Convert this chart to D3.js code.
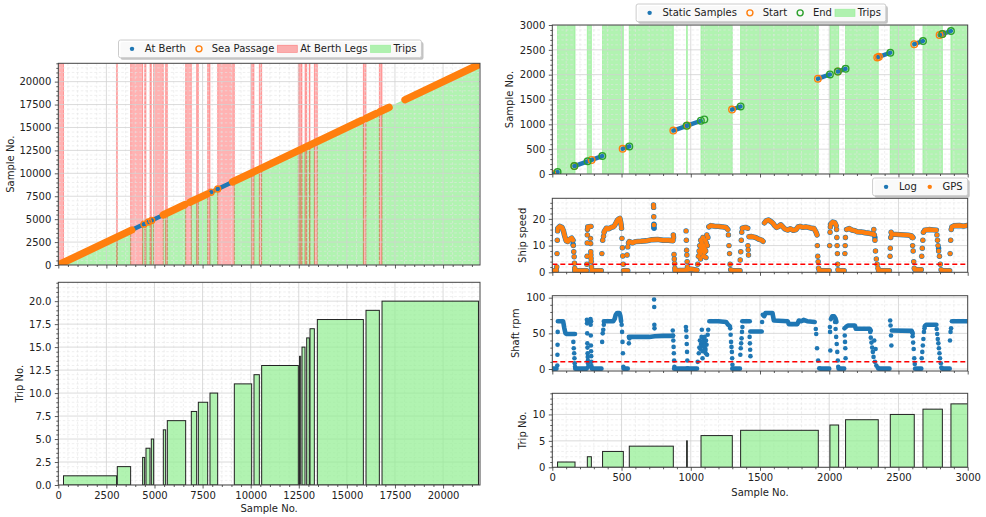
<!DOCTYPE html>
<html>
<head>
<meta charset="utf-8">
<script src="https://cdn.jsdelivr.net/npm/d3@7"></script>
<style>
  body { margin: 0; background: #fff; }
  svg text { font-family: "DejaVu Sans", sans-serif; font-size: 10px; fill: #222; }
</style>
</head>
<body>
<svg id="chart" width="986" height="517"></svg>
<script>
// ---------- full record (left column) ----------
var tripNo    = [1, 2, 3, 4, 5, 6, 7, 8, 9, 10, 11, 12, 13, 14, 15, 16, 17, 18, 19, 20];
var tripStart = [270, 3067, 4384, 4558, 4835, 5459, 5667, 6914, 7279, 7885, 9150, 10172, 10571, 12540, 12668, 12911, 13084, 13465, 15995, 16827];
var tripEnd   = [3030, 3760, 4488, 4766, 4956, 5580, 6620, 7192, 7764, 8284, 10051, 10450, 12477, 12600, 12824, 13049, 13309, 15857, 16688, 21840];

var berthLegStart = [0, 3030, 3760, 4488, 4766, 4956, 5580, 6620, 7192, 7764, 8284, 10051, 10450, 12477, 12600, 12824, 13049, 13309, 15857, 16688];
var berthLegEnd   = [270, 3067, 4384, 4558, 4835, 5459, 5667, 6914, 7279, 7885, 9150, 10172, 10571, 12540, 12668, 12911, 13084, 13465, 15995, 16827];

// sample ranges classified on the diagonal
var atBerth    = [[0, 60], [3816, 4440], [4500, 4660], [4720, 4830], [4880, 5440], [6640, 6680], [7720, 7930], [7950, 8280], [8290, 9060], [15830, 15930], [16670, 16710]];
var seaPassage = [[90, 3816], [4450, 4460], [4680, 4690], [4850, 4860], [5460, 6577], [6850, 7720], [7940, 7945], [8285, 8290], [9060, 15771], [15996, 16516], [16725, 17193], [18023, 21900]];

// ---------- first 3000 samples (right column) ----------
var rTripNo    = [1, 2, 3, 4, 5, 6, 7, 8, 9, 10, 11, 12];
var rTripStart = [38, 253, 363, 556, 970, 1074, 1360, 2005, 2118, 2441, 2677, 2879];
var rTripEnd   = [164, 282, 513, 874, 975, 1300, 1921, 2068, 2354, 2614, 2817, 3010];

var staticRuns   = [[0, 38], [159, 255], [284, 361], [508, 556], [874, 970], [975, 1073], [1298, 1360], [1918, 2005], [2062, 2118], [2347, 2441], [2614, 2677], [2797, 2879]];
var staticStarts = [0, 159, 284, 508, 874, 975, 1298, 1918, 2062, 2347, 2359, 2614, 2797, 2817];
var staticEnds   = [38, 159, 255, 361, 556, 970, 1073, 1098, 1360, 2005, 2062, 2118, 2441, 2677, 2817, 2879];

var speedLimit = 3;
var rpmLimit = 10;

var gpsTracks = [
  [[0, 0.6], [30, 0.6]],
  [[40, 16.5], [55, 17.2], [70, 16.8], [80, 15.6], [90, 13.5], [100, 11.8], [112, 11.5], [125, 12.3], [140, 12.8], [150, 12]],
  [[162, 0.6], [248, 0.6]],
  [[256, 17], [280, 17.2]],
  [[286, 0.6], [354, 0.6]],
  [[378, 15.5], [390, 16.5], [410, 16.3], [425, 16.8], [440, 17], [450, 17.5], [460, 18.5], [470, 19.5], [480, 20], [488, 20.2], [493, 19], [498, 17.5]],
  [[514, 0.6], [545, 0.6]],
  [[556, 11.5], [580, 11], [600, 11.5], [640, 11.6], [680, 11.8], [720, 12.2], [760, 12.3], [800, 12], [840, 12], [872, 11.8]],
  [[886, 0.6], [960, 0.8], [1000, 1.2], [1045, 0.8]],
  [[1130, 17], [1145, 17.5], [1170, 17.3], [1200, 17.2], [1230, 17], [1255, 16.8], [1268, 16]],
  [[1298, 0.6], [1356, 0.6]],
  [[1372, 16.5], [1395, 16.8], [1412, 16.5]],
  [[1420, 13.3], [1440, 13.4], [1470, 13], [1490, 12.4], [1510, 12.1], [1522, 11.6]],
  [[1532, 18.5], [1545, 19.3], [1560, 19.6], [1580, 19], [1595, 18.3], [1605, 17.5], [1620, 16.8], [1635, 17.2], [1650, 17.8], [1665, 17], [1680, 16.2], [1700, 15.8], [1720, 16.3], [1740, 15.7], [1760, 16], [1775, 17], [1790, 17.2], [1810, 16.8], [1830, 17], [1850, 16.8], [1870, 16.5], [1890, 16.4], [1905, 15], [1912, 14]],
  [[1928, 0.6], [2000, 0.6]],
  [[2010, 18], [2025, 18.8], [2040, 18.6], [2050, 17.5]],
  [[2068, 0.6], [2108, 0.6]],
  [[2125, 16], [2145, 16.4], [2165, 15.8], [2185, 15.6], [2200, 15.2], [2230, 15.1], [2260, 14.8], [2290, 14.6], [2318, 14.3]],
  [[2356, 0.6], [2435, 0.6]],
  [[2452, 14.2], [2480, 14.2], [2510, 14.1], [2540, 14], [2570, 13.9], [2595, 13.6], [2605, 13]],
  [[2620, 1], [2665, 1]],
  [[2690, 15.8], [2720, 16], [2750, 15.9], [2774, 15.8]],
  [[2815, 0.6], [2870, 0.6]],
  [[2886, 17], [2900, 17.4], [2940, 17.5], [2970, 17.3], [2998, 17.6]]
];

var gpsSpots = [
  [32, 2], [34, 7], [36, 12], [38, 15.5],
  [152, 10], [155, 7.7], [158, 5.8], [160, 3.4], [162, 1.5],
  [250, 3], [251, 6], [252, 11], [253, 14], [254, 16],
  [276, 12.7], [277, 10.8], [278, 7.7], [279, 6.5], [280, 5.2], [281, 4], [283, 2],
  [358, 7], [364, 12], [370, 13.5], [374, 15],
  [500, 16.5], [503, 12.7], [506, 9.2], [509, 6.1], [512, 3],
  [540, 6.5], [545, 9.5], [550, 11],
  [731, 25.2], [732, 24.3], [733, 20.8], [734, 17.7],
  [874, 14], [876, 13], [879, 6.7], [881, 5], [883, 3.3], [885, 1.5],
  [966, 15.5], [968, 12], [970, 8.3], [972, 6.5], [974, 4], [976, 2],
  [1050, 3], [1055, 6], [1060, 8], [1064, 10], [1068, 7], [1072, 12], [1076, 9], [1080, 11], [1084, 8], [1088, 13], [1092, 10], [1096, 6],
  [1100, 9], [1104, 12], [1108, 8], [1112, 11], [1116, 14], [1120, 10], [1124, 13], [1070, 5], [1090, 6], [1110, 5.5], [1082, 9.5], [1098, 7.5],
  [1272, 14], [1276, 10], [1280, 7], [1284, 3], [1288, 1],
  [1357, 4.6], [1361, 7.7], [1365, 12], [1368, 15],
  [1413, 10], [1415, 8.4], [1417, 6.5],
  [1914, 10], [1917, 6], [1920, 4], [1923, 1.5],
  [2003, 10], [2006, 15], [2008, 17],
  [2053, 16], [2055, 13], [2057, 10], [2059, 7], [2061, 3], [2063, 1],
  [2113, 7], [2115, 10], [2117, 13],
  [2322, 16], [2326, 14], [2330, 12], [2334, 8], [2340, 5], [2346, 3], [2352, 1.5],
  [2439, 6], [2441, 9], [2444, 13], [2447, 15],
  [2598, 13], [2602, 10], [2606, 8], [2610, 4], [2614, 1.5],
  [2668, 6], [2672, 9], [2676, 12], [2680, 15],
  [2778, 14], [2782, 12], [2786, 10], [2790, 8], [2796, 6], [2802, 3], [2808, 1],
  [2873, 7], [2877, 12], [2881, 16]
];

// log speed follows GPS closely; extra samples where it differs
var logTracks = gpsTracks;
var logOnlySpots = [[733, 17], [734, 18], [735, 16.5], [1075, 8], [1085, 12], [1095, 10], [150, 10.5], [2330, 13], [2790, 9]];

var rpmTracks = [
  [[0, 0.5], [30, 0.5]],
  [[40, 67], [78, 67], [86, 58], [95, 50], [104, 49], [164, 49]],
  [[166, 0.5], [248, 0.5]],
  [[256, 67], [280, 67]],
  [[286, 0.5], [355, 0.5]],
  [[372, 67], [440, 67], [450, 70], [458, 76], [468, 78.5], [485, 78.5], [492, 74], [497, 67]],
  [[515, 0.5], [545, 0.5]],
  [[553, 45], [600, 45], [700, 45], [740, 46], [800, 46.5], [872, 46.5]],
  [[880, 0.5], [1045, 0.5]],
  [[1134, 67], [1200, 67], [1255, 66], [1270, 62], [1283, 60]],
  [[1300, 0.5], [1355, 0.5]],
  [[1372, 67], [1426, 67]],
  [[1430, 52.5], [1512, 52.5]],
  [[1530, 74], [1540, 78.5], [1590, 78.5], [1600, 68], [1700, 67], [1708, 63], [1770, 63], [1780, 68], [1800, 67], [1815, 69], [1840, 67], [1895, 66]],
  [[1935, 0.5], [2000, 0.5]],
  [[2012, 70], [2022, 74], [2035, 74], [2045, 71], [2052, 66]],
  [[2068, 0.5], [2108, 0.5]],
  [[2121, 59], [2135, 61], [2185, 61], [2192, 56.5], [2292, 56.5], [2300, 54]],
  [[2356, 0.5], [2435, 0.5]],
  [[2452, 54], [2595, 53.5], [2603, 50]],
  [[2620, 0.5], [2665, 0.5]],
  [[2690, 60], [2700, 62], [2774, 62]],
  [[2815, 0.5], [2870, 0.5]],
  [[2886, 67], [3000, 67]]
];

var rpmSpots = [
  [36, 5], [37, 20], [38, 34], [39, 52],
  [152, 38], [155, 29], [158, 22], [160, 15], [162, 8], [164, 3],
  [250, 69], [251, 64], [252, 50], [253, 36], [254, 30], [255, 22], [256, 17], [257, 12], [258, 8], [259, 3],
  [276, 70], [277, 62], [278, 47], [279, 33], [280, 25], [281, 18], [282, 10], [283, 4],
  [360, 38], [364, 50], [368, 55], [372, 62],
  [501, 62], [504, 52], [507, 38], [510, 22], [513, 3],
  [553, 36], [557, 43],
  [735, 97.5], [736, 87], [737, 62], [738, 57],
  [870, 54], [872, 47], [874, 40], [876, 31], [878, 22], [880, 12], [882, 3],
  [965, 59], [967, 54], [969, 45], [971, 35], [973, 24], [975, 12], [977, 1],
  [1050, 10], [1058, 22], [1062, 30], [1066, 40], [1070, 28], [1074, 35], [1078, 45], [1082, 33], [1086, 25], [1090, 38], [1094, 42], [1098, 30],
  [1102, 36], [1106, 28], [1110, 40], [1114, 34], [1118, 20], [1122, 48], [1126, 55], [1080, 55], [1085, 15], [1100, 45], [1108, 22], [1096, 33], [1104, 26],
  [1285, 57], [1288, 48], [1291, 38], [1294, 31], [1297, 24], [1299, 15], [1301, 6],
  [1358, 20], [1361, 29], [1364, 36], [1367, 43], [1370, 52], [1373, 59],
  [1425, 45], [1427, 36], [1429, 27], [1431, 18],
  [1515, 66], [1520, 76],
  [1903, 56], [1906, 49], [1912, 29], [1920, 12], [1928, 1],
  [2005, 59], [2006, 52], [2008, 26],
  [2042, 66], [2046, 56], [2050, 45], [2054, 35], [2058, 24], [2062, 12], [2065, 3],
  [2110, 57], [2112, 47], [2114, 38], [2116, 29], [2118, 15],
  [2296, 52], [2300, 44], [2305, 37], [2310, 30], [2315, 24], [2320, 17], [2325, 40], [2330, 10], [2335, 28], [2340, 5], [2350, 2],
  [2440, 68], [2443, 61], [2446, 47], [2449, 33],
  [2598, 52], [2602, 46], [2606, 37], [2610, 28], [2614, 15], [2618, 7],
  [2668, 15], [2672, 24], [2676, 33], [2680, 42], [2684, 52], [2688, 57],
  [2776, 56], [2780, 49], [2784, 42], [2788, 36], [2792, 29], [2796, 22], [2800, 15], [2806, 8], [2810, 2],
  [2872, 40], [2876, 52], [2880, 57]
];

// ---------- drawing ----------
var svg = d3.select("#chart");
var defs = svg.append("defs");
var clipCount = 0;

var blue = "#1f77b4", orange = "#ff7f0e", green = "#2ca02c";
var greenFill = "rgba(144,238,144,0.7)", redFill = "rgba(255,0,0,0.3)";

function tickValues(d0, d1, step) {
  var out = [];
  var k0 = Math.ceil(d0 / step - 1e-9), k1 = Math.floor(d1 / step + 1e-9);
  for (var k = k0; k <= k1; k++) out.push(+(k * step).toFixed(6));
  return out;
}

function makePanel(p) {
  var x = d3.scaleLinear().domain(p.xd).range([p.left, p.right]);
  var y = d3.scaleLinear().domain(p.yd).range([p.bottom, p.top]);
  var id = "clip" + (clipCount++);
  defs.append("clipPath").attr("id", id).append("rect")
    .attr("x", p.left).attr("y", p.top)
    .attr("width", p.right - p.left).attr("height", p.bottom - p.top);

  var back = svg.append("g").attr("clip-path", "url(#" + id + ")");
  var grid = svg.append("g").attr("clip-path", "url(#" + id + ")");
  var front = svg.append("g").attr("clip-path", "url(#" + id + ")");

  var xMaj = tickValues(p.xd[0], p.xd[1], p.xStep),
      yMaj = tickValues(p.yd[0], p.yd[1], p.yStep);
  var xMin = tickValues(p.xd[0], p.xd[1], p.xMinor).filter(function(v){ return xMaj.indexOf(v) < 0; }),
      yMin = tickValues(p.yd[0], p.yd[1], p.yMinor).filter(function(v){ return yMaj.indexOf(v) < 0; });

  grid.selectAll(".gxm").data(xMin).enter().append("line")
    .attr("x1", x).attr("x2", x).attr("y1", p.top).attr("y2", p.bottom)
    .attr("stroke", "#e4e4e4").attr("stroke-width", 0.6).attr("stroke-dasharray", "2.5,2");
  grid.selectAll(".gym").data(yMin).enter().append("line")
    .attr("y1", y).attr("y2", y).attr("x1", p.left).attr("x2", p.right)
    .attr("stroke", "#e4e4e4").attr("stroke-width", 0.6).attr("stroke-dasharray", "2.5,2");
  grid.selectAll(".gxM").data(xMaj).enter().append("line")
    .attr("x1", x).attr("x2", x).attr("y1", p.top).attr("y2", p.bottom)
    .attr("stroke", "#d2d2d2").attr("stroke-width", 0.8);
  grid.selectAll(".gyM").data(yMaj).enter().append("line")
    .attr("y1", y).attr("y2", y).attr("x1", p.left).attr("x2", p.right)
    .attr("stroke", "#d2d2d2").attr("stroke-width", 0.8);

  svg.append("rect")
    .attr("x", p.left).attr("y", p.top)
    .attr("width", p.right - p.left).attr("height", p.bottom - p.top)
    .attr("fill", "none").attr("stroke", "#444").attr("stroke-width", 1);

  var axes = [
    svg.append("g").attr("transform", "translate(0," + p.bottom + ")")
      .call(d3.axisBottom(x).tickValues(xMin).tickSize(2).tickFormat("")),
    svg.append("g").attr("transform", "translate(0," + p.bottom + ")")
      .call(d3.axisBottom(x).tickValues(xMaj).tickSize(3.5).tickPadding(3.5)
        .tickFormat(p.xLabels ? d3.format("d") : "")),
    svg.append("g").attr("transform", "translate(" + p.left + ",0)")
      .call(d3.axisLeft(y).tickValues(yMin).tickSize(2).tickFormat("")),
    svg.append("g").attr("transform", "translate(" + p.left + ",0)")
      .call(d3.axisLeft(y).tickValues(yMaj).tickSize(3.5).tickPadding(3.5)
        .tickFormat(d3.format(p.yFmt || "d")))
  ];
  axes.forEach(function(a){
    a.select(".domain").remove();
    a.selectAll("line").attr("stroke", "#333").attr("stroke-width", 0.8);
  });

  svg.append("text")
    .attr("transform", "translate(" + p.yLabelX + "," + ((p.top + p.bottom) / 2) + ") rotate(-90)")
    .attr("text-anchor", "middle")
    .text(p.yLabel);
  if (p.xLabel) {
    svg.append("text")
      .attr("x", (p.left + p.right) / 2).attr("y", p.xLabelY)
      .attr("text-anchor", "middle")
      .text(p.xLabel);
  }
  return {x: x, y: y, back: back, front: front, p: p};
}

function legend(items, opt) {
  var g = svg.append("g");
  var padL = 3.5, handle = 20, tpad = 2.8, col = 3, padR = 5, h = 17.7;
  var cur = padL, parts = [];
  items.forEach(function(it, i){
    var t = g.append("text").text(it.label);
    var w = t.node().getComputedTextLength();
    parts.push({it: it, hx: cur, t: t, tx: cur + handle + tpad});
    cur += handle + tpad + w + (i < items.length - 1 ? col : 0);
  });
  var W = cur + padR;
  var x0 = opt.cx != null ? opt.cx - W / 2 : opt.right - W;
  var yc = opt.top + h / 2;

  g.insert("rect", "text").attr("x", x0).attr("y", opt.top).attr("width", W).attr("height", h)
    .attr("rx", 2).attr("fill", "rgba(255,255,255,0.9)").attr("stroke", "#cccccc").attr("stroke-width", 1);
  g.insert("rect", "rect").attr("x", x0 + 2).attr("y", opt.top + 2).attr("width", W).attr("height", h)
    .attr("rx", 2).attr("fill", "#888").attr("opacity", 0.5);

  parts.forEach(function(pt){
    var hc = x0 + pt.hx + handle / 2;
    if (pt.it.type === "dot") {
      g.append("circle").attr("cx", hc).attr("cy", yc).attr("r", 2.2).attr("fill", pt.it.color);
    } else if (pt.it.type === "ring") {
      g.append("circle").attr("cx", hc).attr("cy", yc).attr("r", 3).attr("fill", "none")
        .attr("stroke", pt.it.color).attr("stroke-width", 1.4);
    } else {
      g.append("rect").attr("x", x0 + pt.hx).attr("y", yc - 3.6).attr("width", handle).attr("height", 7.2)
        .attr("fill", pt.it.color).attr("stroke", pt.it.color).attr("stroke-width", 0.8);
    }
    pt.t.attr("x", x0 + pt.tx).attr("y", yc + 3.6);
  });
}

// ---------- left top: sample classification ----------
var LT = makePanel({left: 58.3, right: 480, top: 63.3, bottom: 265,
  xd: [0, 21920], yd: [0, 22000], xStep: 2500, xMinor: 500, yStep: 2500, yMinor: 500,
  xLabels: false, yLabel: "Sample No.", yLabelX: 14.4});

LT.back.selectAll(".tripFill").data(tripStart).enter().append("path")
  .attr("d", function(s, i){
    var e = tripEnd[i];
    return "M" + LT.x(s) + "," + LT.y(0) + "L" + LT.x(s) + "," + LT.y(s) +
           "L" + LT.x(e) + "," + LT.y(e) + "L" + LT.x(e) + "," + LT.y(0) + "Z";
  })
  .attr("fill", greenFill).attr("stroke", greenFill).attr("stroke-width", 1);

LT.back.selectAll(".berthLeg").data(berthLegStart).enter().append("rect")
  .attr("x", function(s){ return LT.x(s); })
  .attr("width", function(s, i){ return LT.x(berthLegEnd[i]) - LT.x(s); })
  .attr("y", LT.p.top).attr("height", LT.p.bottom - LT.p.top)
  .attr("fill", redFill).attr("stroke", redFill).attr("stroke-width", 1);

function diagPath(P, d) {
  return "M" + P.x(d[0]) + "," + P.y(d[0]) + "L" + P.x(d[1]) + "," + P.y(d[1]);
}

LT.front.selectAll(".berth").data(atBerth).enter().append("path")
  .attr("d", function(d){ return diagPath(LT, d); })
  .attr("stroke", blue).attr("stroke-width", 4.4).attr("stroke-linecap", "round").attr("fill", "none");

LT.front.selectAll(".sea").data(seaPassage.filter(function(d){ return LT.x(d[1]) - LT.x(d[0]) >= 4; }))
  .enter().append("path")
  .attr("d", function(d){ return diagPath(LT, d); })
  .attr("stroke", orange).attr("stroke-width", 7.4).attr("stroke-linecap", "round").attr("fill", "none");

LT.front.selectAll(".seaRing").data(seaPassage.filter(function(d){ return LT.x(d[1]) - LT.x(d[0]) < 4; }))
  .enter().append("circle")
  .attr("cx", function(d){ return LT.x((d[0] + d[1]) / 2); })
  .attr("cy", function(d){ return LT.y((d[0] + d[1]) / 2); })
  .attr("r", 3).attr("fill", "none").attr("stroke", orange).attr("stroke-width", 1.4);

legend([
  {type: "dot", color: blue, label: "At Berth"},
  {type: "ring", color: orange, label: "Sea Passage"},
  {type: "patch", color: redFill, label: "At Berth Legs"},
  {type: "patch", color: greenFill, label: "Trips"}
], {cx: 270, top: 40});

// ---------- left bottom: trips ----------
var LB = makePanel({left: 58.3, right: 480, top: 282.3, bottom: 485,
  xd: [0, 21920], yd: [0, 22.05], xStep: 2500, xMinor: 500, yStep: 2.5, yMinor: 0.5, yFmt: ".1f",
  xLabels: true, xLabel: "Sample No.", xLabelY: 512, yLabel: "Trip No.", yLabelX: 22.7});

LB.front.selectAll(".bar").data(tripNo).enter().append("rect")
  .attr("x", function(n, i){ return LB.x(tripStart[i]); })
  .attr("width", function(n, i){ return LB.x(tripEnd[i]) - LB.x(tripStart[i]); })
  .attr("y", function(n){ return LB.y(n); })
  .attr("height", function(n){ return LB.y(0) - LB.y(n); })
  .attr("fill", greenFill).attr("stroke", "#222").attr("stroke-width", 1);

// ---------- right top: static samples ----------
var RT = makePanel({left: 552.3, right: 967.7, top: 25, bottom: 174,
  xd: [0, 3000], yd: [0, 3000], xStep: 500, xMinor: 100, yStep: 500, yMinor: 100,
  xLabels: false, yLabel: "Sample No.", yLabelX: 512.7});

RT.back.selectAll(".span").data(rTripStart).enter().append("rect")
  .attr("x", function(s){ return RT.x(s); })
  .attr("width", function(s, i){ return RT.x(rTripEnd[i]) - RT.x(s); })
  .attr("y", RT.p.top).attr("height", RT.p.bottom - RT.p.top)
  .attr("fill", greenFill).attr("stroke", greenFill).attr("stroke-width", 1);

RT.front.selectAll(".static").data(staticRuns).enter().append("path")
  .attr("d", function(d){ return diagPath(RT, d); })
  .attr("stroke", blue).attr("stroke-width", 4.4).attr("stroke-linecap", "round").attr("fill", "none");

RT.front.selectAll(".start").data(staticStarts).enter().append("circle")
  .attr("cx", function(s){ return RT.x(s); }).attr("cy", function(s){ return RT.y(s); })
  .attr("r", 3.3).attr("fill", "none").attr("stroke", orange).attr("stroke-width", 1.4);

RT.front.selectAll(".end").data(staticEnds).enter().append("circle")
  .attr("cx", function(s){ return RT.x(s); }).attr("cy", function(s){ return RT.y(s); })
  .attr("r", 3.3).attr("fill", "none").attr("stroke", green).attr("stroke-width", 1.4);

legend([
  {type: "dot", color: blue, label: "Static Samples"},
  {type: "ring", color: orange, label: "Start"},
  {type: "ring", color: green, label: "End"},
  {type: "patch", color: greenFill, label: "Trips"}
], {cx: 761, top: 4});

// ---------- right: ship speed ----------
var RS = makePanel({left: 552.3, right: 967.7, top: 198.3, bottom: 272.3,
  xd: [0, 3000], yd: [0, 27.7], xStep: 500, xMinor: 100, yStep: 10, yMinor: 2,
  xLabels: false, yLabel: "Ship speed", yLabelX: 526});

function drawSeries(P, tracks, spots, color, width) {
  var line = d3.line().x(function(d){ return P.x(d[0]); }).y(function(d){ return P.y(d[1]); });
  P.front.append("g").selectAll("path").data(tracks).enter().append("path")
    .attr("d", line).attr("fill", "none").attr("stroke", color).attr("stroke-width", width)
    .attr("stroke-linecap", "round").attr("stroke-linejoin", "round");
  P.front.append("g").selectAll("circle").data(spots).enter().append("circle")
    .attr("cx", function(d){ return P.x(d[0]); }).attr("cy", function(d){ return P.y(d[1]); })
    .attr("r", width / 2).attr("fill", color);
}

drawSeries(RS, logTracks, gpsSpots.concat(logOnlySpots), blue, 5.4);
drawSeries(RS, gpsTracks, gpsSpots, orange, 4.4);

RS.front.append("line")
  .attr("x1", RS.p.left).attr("x2", RS.p.right)
  .attr("y1", RS.y(speedLimit)).attr("y2", RS.y(speedLimit))
  .attr("stroke", "#ff0000").attr("stroke-width", 1.5).attr("stroke-dasharray", "5,3");

legend([
  {type: "dot", color: blue, label: "Log"},
  {type: "dot", color: orange, label: "GPS"}
], {right: 967.7, top: 178});

// ---------- right: shaft rpm ----------
var RR = makePanel({left: 552.3, right: 967.7, top: 295.7, bottom: 371,
  xd: [0, 3000], yd: [-2.8, 102.8], xStep: 500, xMinor: 100, yStep: 50, yMinor: 10,
  xLabels: false, yLabel: "Shaft rpm", yLabelX: 519.4});

drawSeries(RR, rpmTracks, rpmSpots, blue, 4.6);

RR.front.append("line")
  .attr("x1", RR.p.left).attr("x2", RR.p.right)
  .attr("y1", RR.y(rpmLimit)).attr("y2", RR.y(rpmLimit))
  .attr("stroke", "#ff0000").attr("stroke-width", 1.5).attr("stroke-dasharray", "5,3");

// ---------- right bottom: trips ----------
var RB = makePanel({left: 552.3, right: 967.7, top: 393.3, bottom: 467.3,
  xd: [0, 3000], yd: [0, 14], xStep: 500, xMinor: 100, yStep: 5, yMinor: 1,
  xLabels: true, xLabel: "Sample No.", xLabelY: 495.5, yLabel: "Trip No.", yLabelX: 526});

RB.front.selectAll(".bar").data(rTripNo).enter().append("rect")
  .attr("x", function(n, i){ return RB.x(rTripStart[i]); })
  .attr("width", function(n, i){ return RB.x(rTripEnd[i]) - RB.x(rTripStart[i]); })
  .attr("y", function(n){ return RB.y(n); })
  .attr("height", function(n){ return RB.y(0) - RB.y(n); })
  .attr("fill", greenFill).attr("stroke", "#222").attr("stroke-width", 1);
</script>
</body>
</html>
